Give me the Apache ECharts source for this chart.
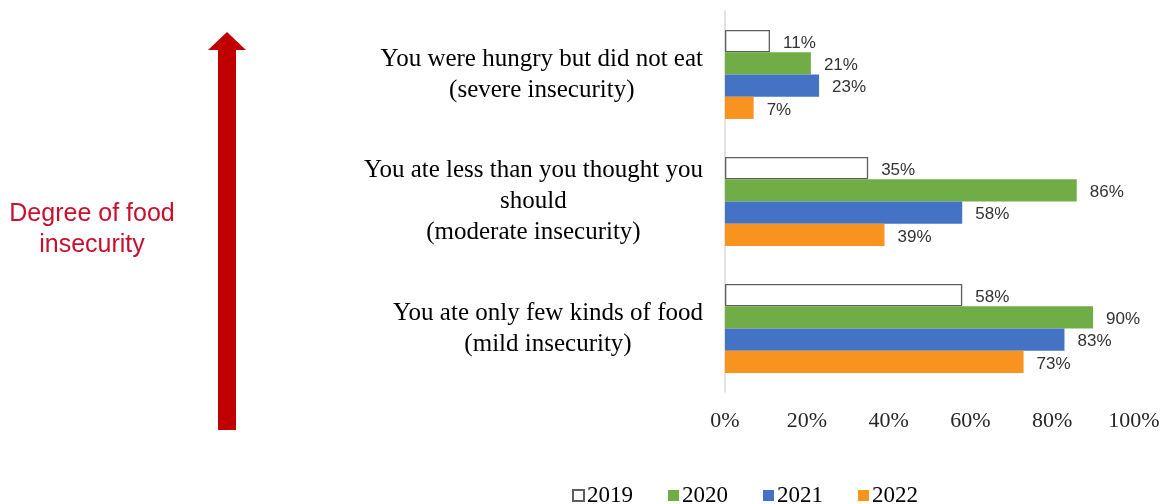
<!DOCTYPE html>
<html>
<head>
<meta charset="utf-8">
<script src="https://cdn.jsdelivr.net/npm/echarts@6/dist/echarts.min.js"></script>
<style>html,body{margin:0;padding:0;background:#fff;}#c{width:1164px;height:504px;}</style>
</head>
<body>
<div id="c"></div>
<script>
const categories = [
  "You were hungry but did not eat\n(severe insecurity)",
  "You ate less than you thought you\nshould\n(moderate insecurity)",
  "You ate only few kinds of food\n(mild insecurity)"
];
const seriesNames = ["2019", "2020", "2021", "2022"];
const v2019 = [11, 35, 58];
const v2020 = [21, 86, 90];
const v2021 = [23, 58, 83];
const v2022 = [7, 39, 73];
const xTicks = [0, 20, 40, 60, 80, 100];

const values = [v2019, v2020, v2021, v2022];
const styles = [
  {color: "#ffffff", borderColor: "#5f5f5f", borderWidth: 1.3},
  {color: "#70AD47"},
  {color: "#4472C4"},
  {color: "#F7931E"}
];

const chart = echarts.init(document.getElementById('c'), null, {renderer: 'canvas'});
chart.setOption({
  animation: false,
  backgroundColor: '#ffffff',
  grid: {left: 725, right: 30, top: 11, bottom: 112, containLabel: false},
  xAxis: {
    type: 'value', min: xTicks[0], max: xTicks[xTicks.length - 1], interval: 20,
    axisLine: {show: false}, axisTick: {show: false}, splitLine: {show: false},
    axisLabel: {formatter: v => v + '%', fontFamily: 'Liberation Serif', fontSize: 22, color: '#262626', margin: 18}
  },
  yAxis: {
    type: 'category', inverse: true, data: categories,
    axisLine: {show: true, lineStyle: {color: '#d9d9d9', width: 1.5}},
    axisTick: {show: false},
    axisLabel: {
      margin: 22,
      formatter: v => v.split('\n').map(l => '{a|' + l + '}').join('\n'),
      rich: {a: {fontFamily: 'Liberation Serif', fontSize: 25, lineHeight: 31, color: '#000', align: 'center'}}
    }
  },
  legend: {
    left: 567, top: 479, itemWidth: 11, itemHeight: 11, itemGap: 35,
    icon: 'rect',
    textStyle: {fontFamily: 'Liberation Serif', fontSize: 23, color: '#000', padding: [0, 0, 0, -2]},
    data: seriesNames
  },
  series: seriesNames.map((n, i) => ({
    name: n, type: 'bar', data: values[i],
    barGap: '0%', barCategoryGap: '30%',
    itemStyle: styles[i],
    label: {show: true, position: 'right', distance: 13, formatter: p => p.value + '%',
      fontFamily: 'Liberation Sans', fontSize: 17, color: '#333333', offset: [0, 2]}
  })),
  graphic: [
    {type: 'polygon', shape: {points: [[227, 32], [246, 50], [236, 50], [236, 430], [218, 430], [218, 50], [208, 50]]},
     style: {fill: '#C00000'}},
    {type: 'text', x: 92, y: 230,
     style: {text: 'Degree of food\ninsecurity', fill: '#C8102E', fontFamily: 'Liberation Sans', fontSize: 25,
       lineHeight: 31, align: 'center', verticalAlign: 'middle'}}
  ]
});
</script>
</body>
</html>
